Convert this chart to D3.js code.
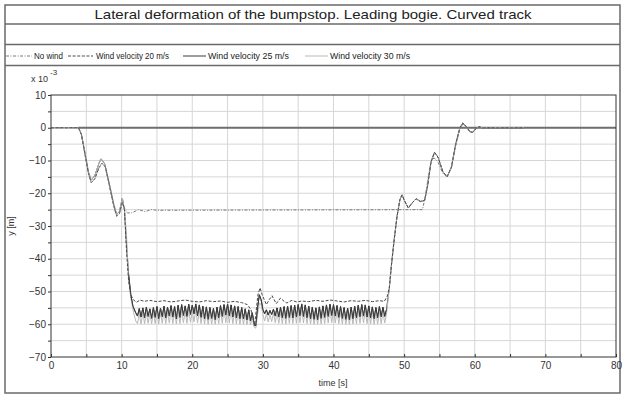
<!DOCTYPE html>
<html>
<head>
<meta charset="utf-8">
<script src="https://cdn.jsdelivr.net/npm/d3@7"></script>
<style>
  body { margin: 0; background: #fff; }
  svg { display: block; font-family: "Liberation Sans", Arial, sans-serif; }
</style>
</head>
<body>
<svg id="chart" width="622" height="396"></svg>
<script>
// ---- data (y in units of 1e-3 m) ----
const titleText = 'Lateral deformation of the bumpstop. Leading bogie. Curved track';
const xTicks = [0, 10, 20, 30, 40, 50, 60, 70, 80];
const yTicks = [10, 0, -10, -20, -30, -40, -50, -60, -70];

// zero reference line that runs from the start of the motion
const zeroLine = [[3.8, 0], [80, 0]];

// shared transient entering the curve (no wind / 20 m/s)
const entryA = [[0, 0], [3.9, 0], [4.3, -2], [4.8, -8], [5.3, -14], [5.7, -16.8], [6.2, -15.6], [6.8, -12.2],
  [7.2, -10.8], [7.7, -12], [8.3, -18], [8.9, -24], [9.3, -27], [9.7, -26.2], [10.1, -22.8]];
// entry for 25 / 30 m/s (a bit higher on the first bump)
const entryB = [[0, 0], [3.9, 0], [4.3, -2], [4.8, -7.5], [5.3, -13.5], [5.7, -16], [6.2, -14.6], [6.8, -10.8],
  [7.1, -9.5], [7.6, -11], [8.3, -17.5], [8.9, -23.5], [9.3, -26.5], [9.7, -25.5], [10.1, -21.5]];

// exit transient shared by the wind cases after the plateau
const exitWind = [[47.9, -49], [48.2, -42], [48.6, -34], [49.0, -27], [49.4, -22], [49.7, -20.5], [50.1, -22.5],
  [50.6, -24.5], [51.2, -22.8], [51.7, -21.7], [52.3, -22.5], [52.9, -22.2], [53.3, -18], [53.8, -10.5],
  [54.3, -7.5], [54.8, -9], [55.5, -13.5], [56.1, -14.9], [56.7, -12], [57.3, -5], [57.9, 0], [58.3, 1.4],
  [58.8, 0.4], [59.3, -1.2], [59.7, -1.4], [60.2, -0.2], [60.6, 0.3], [61, 0], [67, 0]];
const exitNoWind = [[52.6, -25], [53.0, -21], [53.5, -14], [53.9, -9.5], [54.3, -9.3], [54.8, -10.5], [55.5, -14],
  [56.1, -14.9], [56.7, -12.3], [57.3, -5.5], [57.9, -0.5], [58.3, 1.2], [58.8, 0.3], [59.3, -1.2], [59.7, -1.4],
  [60.2, -0.3], [60.6, 0.2], [61, 0], [67, 0]];

// no wind: settles on the -25 plateau
const noWindMid = [[10.4, -24.5], [10.8, -26], [11.4, -26], [12.4, -25], [13.3, -25.6], [14.2, -25], [15, -25.2], [52.6, -25]];

// 20 m/s: fast drop, then a plateau around -53 with the kick near t = 29 s
const wind20Mid = [[10.4, -25], [10.7, -38], [11.0, -47], [11.3, -51], [11.65, -52.5], [12.1, -53.3], [12.6, -52.6],
  [13.2, -53.0], [14, -52.7], [15, -53.1], [16, -52.8], [17, -53.2], [18, -52.9], [19, -52.6], [20, -53.0],
  [21, -53.2], [22, -52.8], [23, -53.1], [24, -52.9], [25, -53.3], [26, -53.0], [27, -53.4], [27.8, -54],
  [28.3, -55.5], [28.6, -58], [28.8, -60.5], [29.0, -57], [29.3, -51], [29.6, -48.9], [29.9, -51], [30.5, -54],
  [30.9, -52.5], [31.3, -51.3], [31.6, -52.5], [31.9, -53.7], [32.5, -52], [33.0, -53], [33.4, -53.5],
  [34.1, -52.7], [34.8, -53.2], [35.5, -52.9], [36.5, -53.1], [37.5, -52.7], [38.5, -53.0], [39.5, -52.6],
  [40.5, -52.9], [41.5, -53.2], [42.5, -52.8], [43.5, -53.0], [44.5, -52.7], [45.5, -53.1], [46.5, -52.8],
  [47.2, -53.0], [47.6, -51.5]];

// 25 / 30 m/s: entry drop before the oscillating plateau
const wind25Drop = [[10.4, -25], [10.7, -36], [11.0, -45], [11.3, -51], [11.6, -54.5], [11.9, -56]];
const wind30Drop = [[10.4, -25], [10.7, -33], [10.95, -45], [11.3, -52], [11.7, -56.5], [12.0, -59]];

// oscillating plateau, one value every oscStep seconds from oscStart
const oscStart = 12;
const oscStep = 0.25;
const wind25Osc = [
  -56.5, -57.5, -55.2, -57.8, -55.0, -58.0, -54.8, -57.6, -55.3, -58.2,
  -54.9, -57.9, -54.6, -58.3, -55.1, -57.7, -54.5, -58.1, -54.8, -57.5,
  -54.3, -57.8, -54.6, -58.4, -54.2, -57.9, -54.0, -57.3, -54.4, -57.6,
  -53.9, -57.0, -54.2, -56.8, -53.8, -57.4, -54.1, -57.9, -54.5, -58.3,
  -54.7, -58.5, -54.9, -58.2, -55.2, -58.6, -54.8, -58.0, -54.3, -57.6,
  -54.0, -57.2, -53.8, -57.5, -54.1, -57.8, -54.4, -58.1, -54.6, -58.3,
  -54.9, -58.4, -55.3, -58.7, -55.6, -59.0, -56.5, -59.8, -60.5, -55.0,
  -51.0, -52.5, -55.5, -56.8, -55.6, -57.2, -55.8, -57.0, -55.4, -57.5,
  -55.0, -57.8, -54.8, -58.0, -54.6, -58.2, -54.5, -57.9, -54.3, -58.1,
  -54.2, -57.8, -54.0, -57.4, -53.8, -57.6, -54.1, -58.0, -54.5, -58.3,
  -54.8, -58.5, -55.0, -58.6, -54.7, -58.2, -54.4, -57.9, -54.1, -57.6,
  -53.9, -57.3, -54.0, -57.5, -54.3, -57.9, -54.6, -58.2, -54.9, -58.5,
  -55.1, -58.6, -54.8, -58.3, -54.5, -58.0, -54.2, -57.7, -54.0, -57.5,
  -54.1, -57.8, -54.4, -58.1, -54.7, -58.3, -54.9, -58.0, -54.6, -57.7,
  -54.8, -57.6, -55.5
];
const wind30Osc = [
  -59.0, -59.8, -56.8, -59.9, -56.5, -59.8, -56.4, -59.7, -56.7, -59.9,
  -56.3, -59.8, -56.1, -59.9, -56.5, -59.7, -56.0, -59.8, -56.2, -59.6,
  -55.9, -59.8, -56.2, -59.9, -55.8, -59.8, -55.7, -59.5, -56.0, -59.7,
  -55.6, -59.4, -55.9, -59.3, -55.5, -59.6, -55.8, -59.8, -56.1, -59.9,
  -56.3, -60.0, -56.5, -59.9, -56.7, -60.0, -56.4, -59.8, -56.0, -59.7,
  -55.7, -59.5, -55.5, -59.6, -55.8, -59.8, -56.0, -59.9, -56.3, -60.0,
  -56.5, -60.0, -56.8, -60.1, -57.2, -60.2, -58.0, -60.8, -61.2, -57.0,
  -53.5, -54.0, -57.0, -59.0, -56.8, -59.3, -57.0, -59.2, -56.6, -59.5,
  -56.4, -59.7, -56.2, -59.8, -56.0, -59.9, -55.9, -59.7, -55.8, -59.8,
  -55.7, -59.7, -55.6, -59.5, -55.4, -59.6, -55.7, -59.8, -56.0, -59.9,
  -56.3, -60.0, -56.5, -60.0, -56.2, -59.9, -55.9, -59.8, -55.7, -59.6,
  -55.5, -59.5, -55.6, -59.6, -55.9, -59.8, -56.2, -59.9, -56.4, -60.0,
  -56.6, -60.0, -56.3, -59.9, -56.0, -59.8, -55.8, -59.7, -55.6, -59.6,
  -55.7, -59.8, -56.0, -59.9, -56.2, -60.0, -56.4, -59.9, -56.2, -59.8,
  -56.3, -59.6, -57.0
];

const legendNames = ['No wind', 'Wind velocity 20 m/s', 'Wind velocity 25 m/s', 'Wind velocity 30 m/s'];

// ---- build series ----
const oscPoints = vals => vals.map((v, i) => [oscStart + i * oscStep, v]);
const style = {
  noWind: {color: '#7a7a7a', dash: '3,1.5,1,1.5'},
  w20: {color: '#4a4a4a', dash: '3,1.6'},
  w25: {color: '#3c3c3c', dash: null},
  w30: {color: '#b8b8b8', dash: null}
};
const wind25Pts = entryB.concat(wind25Drop, oscPoints(wind25Osc), exitWind);
const wind30Pts = entryB.concat(wind30Drop, oscPoints(wind30Osc), exitWind);
const wind20Pts = entryA.concat(wind20Mid, exitWind);
const noWindPts = entryA.concat(noWindMid, exitNoWind);
// drawing order: 25 m/s below 30 m/s in the transients, its plateau on top again
const layers = [
  {pts: wind25Pts, st: style.w25},
  {pts: wind30Pts, st: style.w30},
  {pts: wind25Drop.slice(2).concat(oscPoints(wind25Osc)), st: style.w25},
  {pts: wind20Pts, st: style.w20},
  {pts: noWindPts, st: style.noWind}
];
const legendItems = [
  {name: legendNames[0], st: style.noWind, x0: 6, x1: 32, tx: 34, tw: 29},
  {name: legendNames[1], st: style.w20, x0: 68, x1: 93, tx: 96, tw: 73},
  {name: legendNames[2], st: style.w25, x0: 183, x1: 206, tx: 208, tw: 81},
  {name: legendNames[3], st: style.w30, x0: 305, x1: 328, tx: 330, tw: 80}
];

const svg = d3.select('#chart');
const x = d3.scaleLinear().domain([0, 80]).range([51, 616]);
const y = d3.scaleLinear().domain([-70, 10]).range([357, 95]);

// ---- outer frame with title and legend rows ----
const frameColor = '#6a6a6a';
svg.append('rect').attr('x', 5).attr('y', 5).attr('width', 615).attr('height', 388)
  .attr('fill', 'none').attr('stroke', frameColor).attr('stroke-width', 1.5);
[24, 44.5, 65.5].forEach(yy => {
  svg.append('line').attr('x1', 5).attr('x2', 620).attr('y1', yy).attr('y2', yy)
    .attr('stroke', frameColor).attr('stroke-width', 1.5);
});
svg.append('text').attr('x', 313).attr('y', 19).attr('text-anchor', 'middle')
  .attr('font-size', 13).attr('fill', '#222')
  .attr('textLength', 437).attr('lengthAdjust', 'spacingAndGlyphs')
  .text(titleText);

// legend
legendItems.forEach(L => {
  svg.append('line').attr('x1', L.x0).attr('x2', L.x1).attr('y1', 56).attr('y2', 56)
    .attr('stroke', L.st.color).attr('stroke-width', 1).attr('stroke-dasharray', L.st.dash);
  svg.append('text').attr('x', L.tx).attr('y', 59).attr('font-size', 9).attr('fill', '#222')
    .attr('textLength', L.tw).attr('lengthAdjust', 'spacingAndGlyphs').text(L.name);
});

// ---- grid ----
const grid = svg.append('g');
grid.selectAll('.gx').data(d3.range(5, 80, 5)).enter().append('line')
  .attr('x1', d => x(d)).attr('x2', d => x(d)).attr('y1', y(10)).attr('y2', y(-70))
  .attr('stroke', '#d6d6d6').attr('stroke-width', 1);
grid.selectAll('.gy').data(d3.range(-65, 10, 5)).enter().append('line')
  .attr('y1', d => y(d)).attr('y2', d => y(d)).attr('x1', x(0)).attr('x2', x(80))
  .attr('stroke', '#d6d6d6').attr('stroke-width', 1);

// ---- series ----
const line = d3.line().x(d => x(d[0])).y(d => y(d[1]));
svg.append('path').datum(zeroLine).attr('d', line).attr('fill', 'none')
  .attr('stroke', '#6e6e6e').attr('stroke-width', 2);
layers.forEach(l => {
  svg.append('path').datum(l.pts).attr('d', line).attr('fill', 'none')
    .attr('stroke', l.st.color).attr('stroke-width', 1)
    .attr('stroke-dasharray', l.st.dash).attr('stroke-linejoin', 'round');
});

// ---- axes ----
const axisG = svg.append('g').attr('font-size', 9.5);
svg.append('rect').attr('x', x(0)).attr('y', y(10)).attr('width', x(80) - x(0)).attr('height', y(-70) - y(10))
  .attr('fill', 'none').attr('stroke', '#333').attr('stroke-width', 1);

const xAxis = axisG.append('g').attr('transform', `translate(0,${y(-70)})`)
  .call(d3.axisBottom(x).tickValues(xTicks).tickSize(-3).tickPadding(5).tickFormat(d3.format('d')));
const xMinor = axisG.append('g').attr('transform', `translate(0,${y(-70)})`)
  .call(d3.axisBottom(x).tickValues(d3.range(5, 80, 10)).tickSize(-3).tickFormat(''));
const yAxis = axisG.append('g').attr('transform', `translate(${x(0)},0)`)
  .call(d3.axisLeft(y).tickValues(yTicks).tickSize(3).tickPadding(2).tickFormat(d3.format('d')));
const yMinor = axisG.append('g').attr('transform', `translate(${x(0)},0)`)
  .call(d3.axisLeft(y).tickValues(d3.range(-65, 10, 10)).tickSize(3).tickFormat(''));
[xAxis, xMinor, yAxis, yMinor].forEach(g => {
  g.select('.domain').remove();
  g.selectAll('line').attr('stroke', '#333');
  g.selectAll('text').attr('fill', '#333').attr('font-family', '"Liberation Sans", Arial, sans-serif');
});

// axis titles
svg.append('text').attr('x', 31).attr('y', 82).attr('font-size', 9).attr('fill', '#333').text('x 10');
svg.append('text').attr('x', 50).attr('y', 75).attr('font-size', 8).attr('fill', '#333').text('-3');
svg.append('text').attr('transform', `translate(14,${(y(10) + y(-70)) / 2}) rotate(-90)`)
  .attr('text-anchor', 'middle').attr('font-size', 9).attr('fill', '#333').text('y [m]');
svg.append('text').attr('x', 333).attr('y', 386).attr('text-anchor', 'middle')
  .attr('font-size', 9).attr('fill', '#333').text('time [s]');
</script>
</body>
</html>
